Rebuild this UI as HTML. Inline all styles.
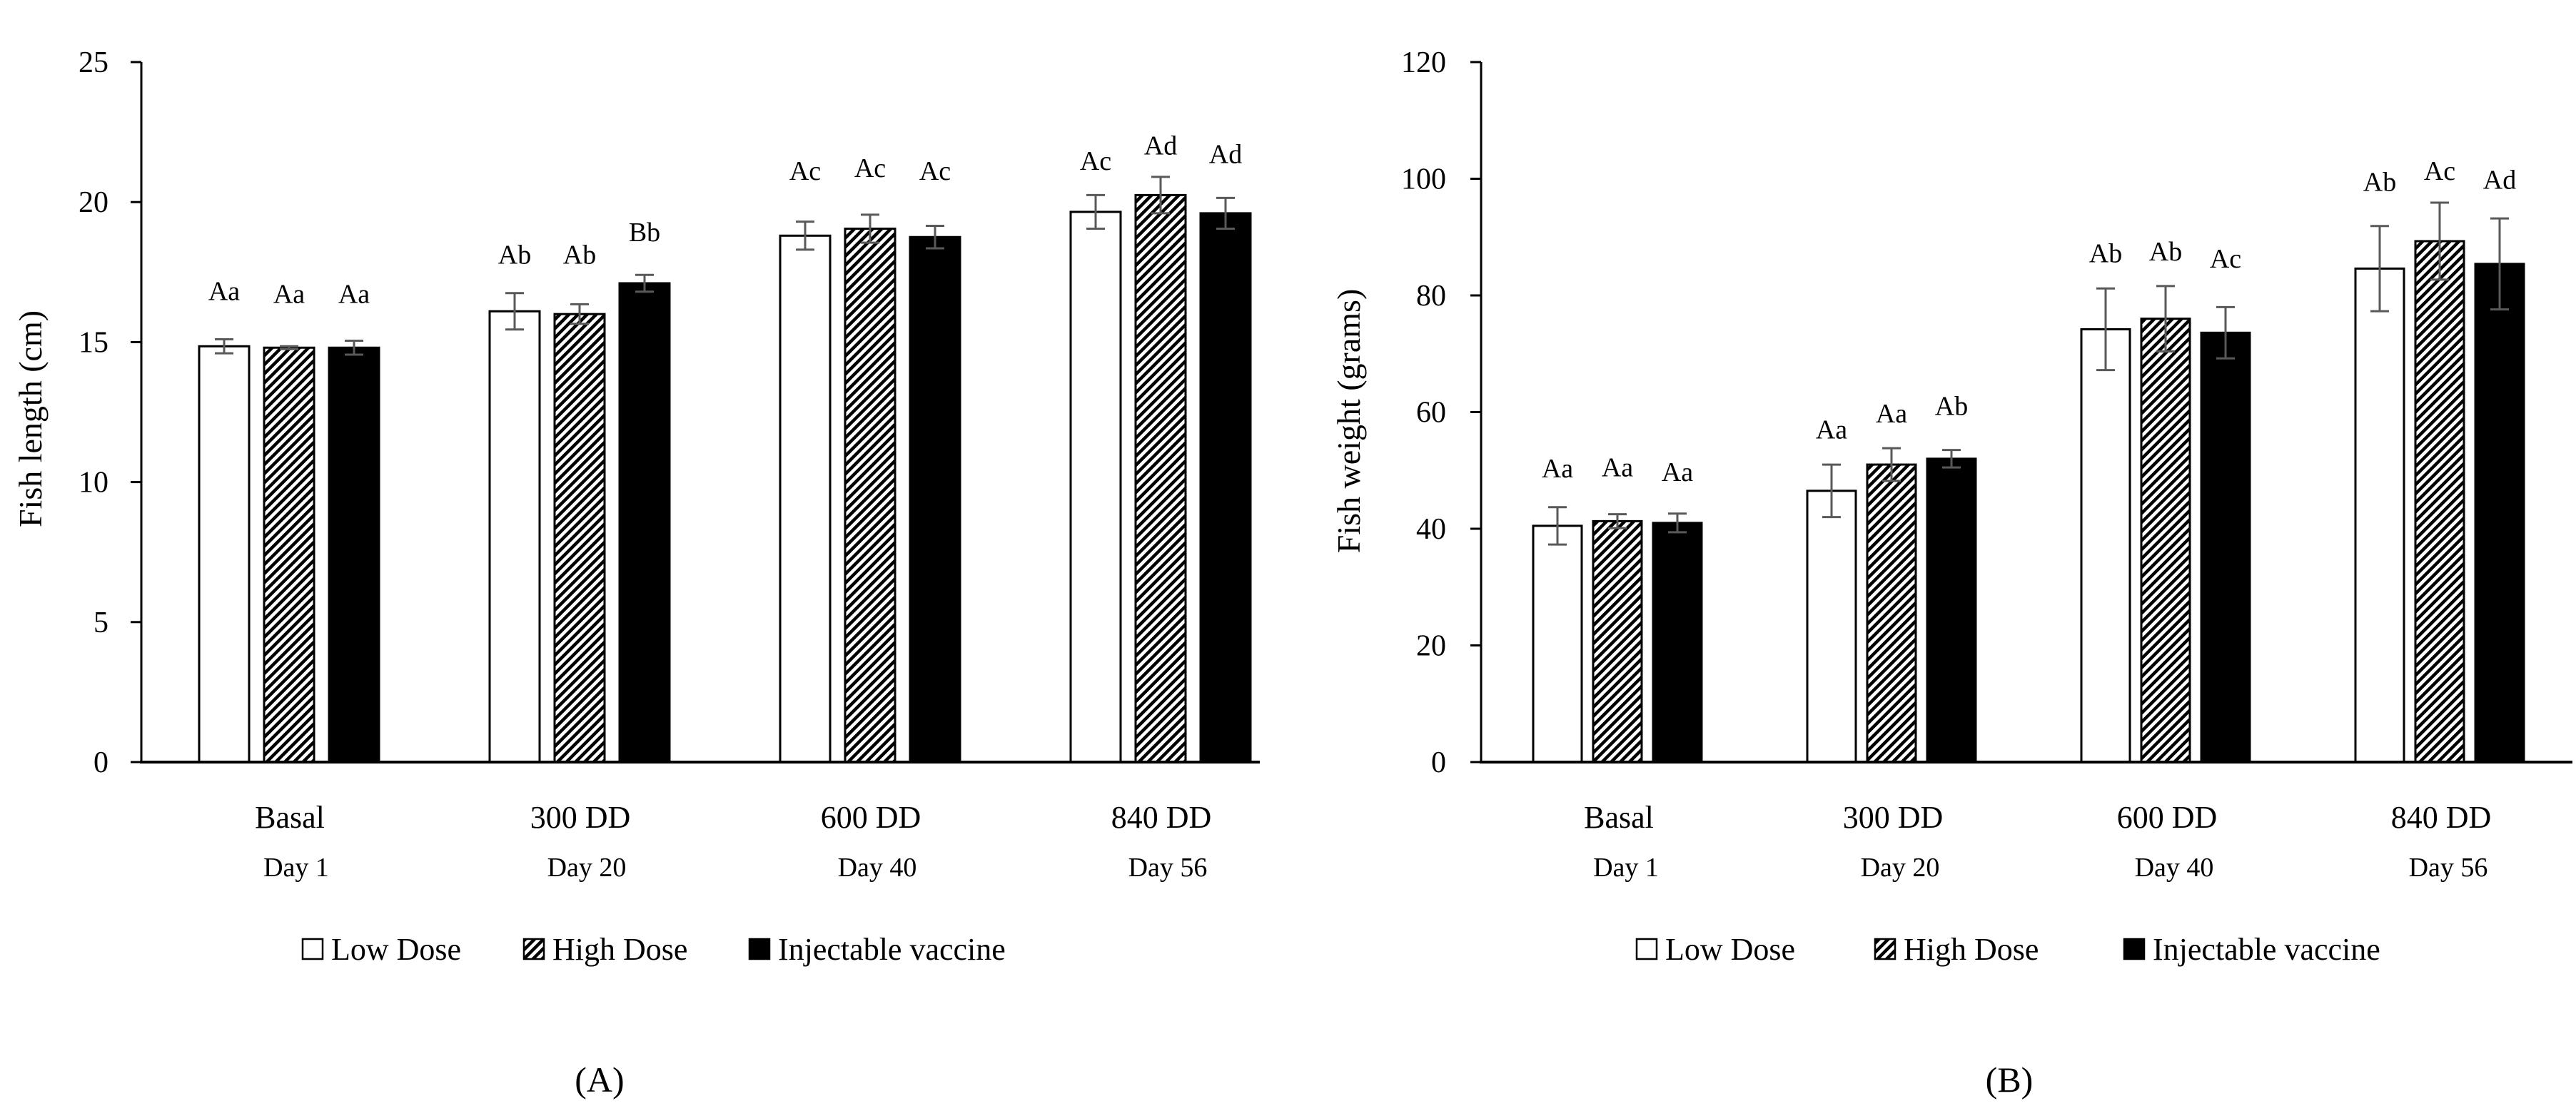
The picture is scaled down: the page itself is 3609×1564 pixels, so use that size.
<!DOCTYPE html>
<html><head><meta charset="utf-8">
<style>
html,body{margin:0;padding:0;background:#fff;}
svg{display:block;}
text{font-family:"Liberation Serif",serif;fill:#000;}
</style></head>
<body>
<svg id="fig" width="3609" height="1564" viewBox="0 0 3609 1564" xmlns="http://www.w3.org/2000/svg">
<defs>
<pattern id="hatch" patternUnits="userSpaceOnUse" width="9" height="9" patternTransform="rotate(45)">
<rect width="9" height="9" fill="#fff"/>
<rect x="0" y="0" width="4.5" height="9" fill="#000"/>
</pattern>
</defs>
</svg>
<script>
// ---- shared data ----
const categories = ["Basal","300 DD","600 DD","840 DD"];
const days = ["Day 1","Day 20","Day 40","Day 56"];
const seriesNames = ["Low Dose","High Dose","Injectable vaccine"];

// ---- chart A: fish length ----
const lenLow = [14.85,16.1,18.8,19.65];
const lenHigh = [14.8,16.0,19.05,20.25];
const lenInj = [14.8,17.1,18.75,19.6];
const lenLowErr = [0.25,0.65,0.5,0.6];
const lenHighErr = [0.05,0.35,0.5,0.65];
const lenInjErr = [0.25,0.3,0.4,0.55];
const lenLetters = [["Aa","Ab","Ac","Ac"],["Aa","Ab","Ac","Ad"],["Aa","Bb","Ac","Ad"]];
const lenLetterY = [[16.5,17.8,20.8,21.15],[16.4,17.8,20.9,21.7],[16.4,18.6,20.8,21.4]];
const lenTicks = [0,5,10,15,20,25];

// ---- chart B: fish weight ----
const wLow = [40.5,46.5,74.2,84.6];
const wHigh = [41.3,51.0,76.0,89.3];
const wInj = [41.0,52.0,73.6,85.4];
const wLowErr = [3.2,4.5,7.0,7.3];
const wHighErr = [1.2,2.8,5.6,6.6];
const wInjErr = [1.6,1.5,4.4,7.8];
const wLetters = [["Aa","Aa","Ab","Ab"],["Aa","Aa","Ab","Ac"],["Aa","Ab","Ac","Ad"]];
const wLetterY = [[48.8,55.5,85.7,97.9],[49.0,58.2,86.0,99.8],[48.2,59.5,84.8,98.3]];
const wTicks = [0,20,40,60,80,100,120];

const svg = document.getElementById('fig');
const NS = "http://www.w3.org/2000/svg";
function mk(tag, attrs, parent){
  const e = document.createElementNS(NS, tag);
  for (const k in attrs) e.setAttribute(k, attrs[k]);
  (parent||svg).appendChild(e);
  return e;
}
const fills = ["#fff","url(#hatch)","#000"];

function drawChart(cfg){
  const g = mk('g', {});
  
  
  const y = v => cfg.y0 - (v - cfg.min) / (cfg.max - cfg.min) * (cfg.y0 - cfg.yTop);
  const xc = i => cfg.firstCenter + i * cfg.groupStep;
  cfg.ticks.forEach(t => {
    const tk = mk('line', {x1:cfg.axisX-15, x2:cfg.axisX, y1:y(t), y2:y(t), stroke:'#000', 'stroke-width':3}, g);
    
    
    const tl = mk('text', {x:cfg.tickLabelX, y:y(t)+14, 'text-anchor':'end', 'font-size':42}, g);
    tl.textContent = t;
    
    
  });
  const vals = cfg.values, errs = cfg.errors;
  for (let s = 0; s < 3; s++){
    for (let i = 0; i < categories.length; i++){
      const cx = xc(i) + (s-1) * cfg.barStep;
      const top = y(vals[s][i]);
      const r = mk('rect', {x:cx-cfg.barW/2, y:top, width:cfg.barW, height:cfg.y0-top, fill:fills[s], stroke:'#000', 'stroke-width':3}, g);
      
      
      const e1 = y(vals[s][i] + errs[s][i]), e2 = y(vals[s][i] - errs[s][i]);
      const eb = mk('path', {d:`M${cx-13},${e1}H${cx+13}M${cx},${e1}V${e2}M${cx-13},${e2}H${cx+13}`, stroke:'#595959', 'stroke-width':3, fill:'none'}, g);
      
      
      const lt = mk('text', {x:cx, y:y(cfg.letterY[s][i]), 'text-anchor':'middle', 'font-size':38}, g);
      lt.textContent = cfg.letters[s][i];
      
      
    }
  }
  const ya = mk('line', {x1:cfg.axisX, x2:cfg.axisX, y1:cfg.yTop, y2:cfg.y0, stroke:'#000', 'stroke-width':3}, g);
  
  
  const xa = mk('line', {x1:cfg.axisX-2, x2:cfg.axisRight, y1:cfg.y0, y2:cfg.y0, stroke:'#000', 'stroke-width':4}, g);
  
  
  categories.forEach((c, i) => {
    const t = mk('text', {x:xc(i)+cfg.catDx, y:1160, 'text-anchor':'middle', 'font-size':44}, g);
    t.textContent = c;
    
    
    const d = mk('text', {x:xc(i)+cfg.dayDx, y:1228, 'text-anchor':'middle', 'font-size':38}, g);
    d.textContent = days[i];
    
    
  });
  const yt = mk('text', {x:0, y:0, 'text-anchor':'middle', 'font-size':46, transform:`translate(${cfg.titleX},${cfg.titleY}) rotate(-90)`}, g);
  yt.textContent = cfg.title;
  
  
  const lg = mk('g', {}, g);
  
  
  for (let s = 0; s < 3; s++){
    const sw = mk('rect', {x:cfg.legX[s], y:1316, width:28, height:28, fill:fills[s], stroke:'#000', 'stroke-width':2.5}, lg);
    
    
    const lt = mk('text', {x:cfg.legX[s]+40, y:1345, 'font-size':44}, lg);
    lt.textContent = seriesNames[s];
    
    
  }
  const pl = mk('text', {x:cfg.panelX, y:1530, 'text-anchor':'middle', 'font-size':50}, g);
  pl.textContent = cfg.panel;
  
  
}

drawChart({name:'chart-a-fish-length', min:0, max:25, ticks:lenTicks, y0:1068, yTop:87,
  axisX:198, axisRight:1765, tickLabelX:152, firstCenter:405, groupStep:407, barStep:91, barW:70,
  values:[lenLow,lenHigh,lenInj], errors:[lenLowErr,lenHighErr,lenInjErr], letters:lenLetters, letterY:lenLetterY,
  catDx:1, dayDx:10, title:'Fish length (cm)', titleX:58, titleY:587, legX:[424,734,1050], panel:'(A)', panelX:840});

drawChart({name:'chart-b-fish-weight', min:0, max:120, ticks:wTicks, y0:1068, yTop:87,
  axisX:2075, axisRight:3604, tickLabelX:2026, firstCenter:2266, groupStep:384, barStep:84, barW:68,
  values:[wLow,wHigh,wInj], errors:[wLowErr,wHighErr,wInjErr], letters:wLetters, letterY:wLetterY,
  catDx:2, dayDx:12, title:'Fish weight (grams)', titleX:1905, titleY:590, legX:[2293,2627,2976], panel:'(B)', panelX:2815});
</script>
</body></html>
